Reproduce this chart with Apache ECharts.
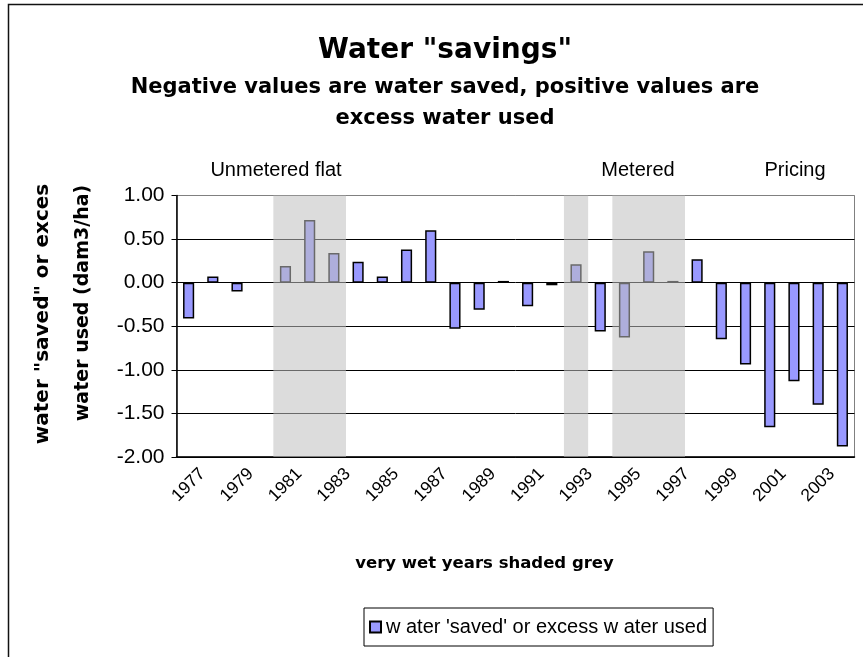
<!DOCTYPE html>
<html lang="en">
<head>
    <meta charset="utf-8">
    <title>Water savings</title>
    <script src="https://cdn.jsdelivr.net/npm/echarts@6/dist/echarts.min.js"></script>
    <style>
        html, body { margin: 0; padding: 0; background: #fff; }
        #main { width: 863px; height: 657px; }
    </style>
</head>
<body>
<div id="main"></div>
<script type="text/javascript">
    // years on the category axis
    var years = ['1977', '1978', '1979', '1980', '1981', '1982', '1983', '1984', '1985', '1986',
        '1987', '1988', '1989', '1990', '1991', '1992', '1993', '1994', '1995', '1996',
        '1997', '1998', '1999', '2000', '2001', '2002', '2003', '2004'];
    // water "saved" (negative) or excess used (positive), dam3/ha
    var savings = [-0.41, 0.07, -0.10, null, 0.19, 0.72, 0.34, 0.24, 0.07, 0.38,
        0.60, -0.53, -0.31, 0.02, -0.27, -0.03, 0.21, -0.56, -0.63, 0.36,
        0.02, 0.27, -0.65, -0.94, -1.66, -1.13, -1.40, -1.88];
    // very wet years (first, last) -> shaded grey
    var wetYears = [['1981', '1983'], ['1993', '1993'], ['1995', '1997']];
    var yTicks = [-2, -1.5, -1, -0.5, 0, 0.5, 1];

    var seriesName = "w ater 'saved' or excess w ater used";
    var arial = 'Liberation Sans, Arial, sans-serif';
    var verdana = 'DejaVu Sans, Verdana, sans-serif';

    var myChart = echarts.init(document.getElementById('main'));

    var option = {
        animation: false,
        backgroundColor: '#fff',
        title: {
            text: 'Water "savings"',
            subtext: 'Negative values are water saved, positive values are\nexcess water used',
            left: 440,
            top: 32,
            textAlign: 'center',
            itemGap: 7.5,
            textStyle: { fontFamily: verdana, fontWeight: 'bold', fontSize: 28, color: '#000' },
            subtextStyle: { fontFamily: verdana, fontWeight: 'bold', fontSize: 21, lineHeight: 31, color: '#000' }
        },
        legend: {
            data: [seriesName],
            left: 364,
            top: 608,
            padding: [9, 6, 9, 5],
            borderColor: '#000',
            borderWidth: 1,
            itemWidth: 11,
            itemHeight: 11,
            icon: 'rect',
            textStyle: { fontFamily: arial, fontSize: 20, color: '#000' }
        },
        grid: {
            left: 176.5,
            right: 8.5,
            top: 195.5,
            bottom: 200,
            containLabel: false,
            show: true,
            borderColor: '#808080',
            borderWidth: 1
        },
        xAxis: [{
            type: 'category',
            data: years,
            boundaryGap: true,
            name: 'very wet years shaded grey',
            nameLocation: 'middle',
            nameGap: 98,
            nameTextStyle: { fontFamily: verdana, fontWeight: 'bold', fontSize: 16.5, color: '#000', padding: [0, 62, 0, 0] },
            axisLine: { onZero: false, lineStyle: { color: '#000', width: 1.5 } },
            axisTick: { interval: 0, length: 5, lineStyle: { color: '#000' } },
            axisLabel: {
                interval: 1, rotate: 45, margin: 28, align: 'center', verticalAlign: 'middle',
                fontFamily: arial, fontSize: 17.5, color: '#000'
            },
            splitLine: { show: false }
        }, {
            type: 'value',
            min: 0,
            max: years.length,
            show: false
        }],
        yAxis: {
            type: 'value',
            min: yTicks[0],
            max: yTicks[yTicks.length - 1],
            interval: 0.5,
            axisLine: { show: true, lineStyle: { color: '#000', width: 1.5 } },
            axisTick: { show: true, length: 5, lineStyle: { color: '#000' } },
            axisLabel: {
                margin: 12, fontFamily: arial, fontSize: 21, color: '#000',
                formatter: function (v) { return v.toFixed(2); }
            },
            splitLine: {
                lineStyle: { color: ['#000', '#000', '#000', '#000', '#000', '#000', '#808080'], width: 1 }
            }
        },
        graphic: [
            { type: 'rect', shape: { x: 8.5, y: 4.5, width: 900, height: 700 },
              style: { fill: 'none', stroke: '#111', lineWidth: 1.5 }, silent: true },
            { type: 'text', x: 276, y: 170,
              style: { text: 'Unmetered flat', font: '20px ' + arial, fill: '#000', textAlign: 'center', textVerticalAlign: 'middle' } },
            { type: 'text', x: 638, y: 170,
              style: { text: 'Metered', font: '20px ' + arial, fill: '#000', textAlign: 'center', textVerticalAlign: 'middle' } },
            { type: 'text', x: 795, y: 170,
              style: { text: 'Pricing', font: '20px ' + arial, fill: '#000', textAlign: 'center', textVerticalAlign: 'middle' } },
            { type: 'text', x: 43, y: 314, rotation: Math.PI / 2,
              style: { text: 'water "saved" or exces', font: 'bold 20px ' + verdana, fill: '#000', textAlign: 'center', textVerticalAlign: 'middle' } },
            { type: 'text', x: 83, y: 303, rotation: Math.PI / 2,
              style: { text: 'water used (dam3/ha)', font: 'bold 19px ' + verdana, fill: '#000', textAlign: 'center', textVerticalAlign: 'middle' } }
        ],
        series: [{
            name: seriesName,
            type: 'bar',
            data: savings,
            barWidth: '46%',
            itemStyle: { color: '#9999FF', borderColor: '#000', borderWidth: 1.5 }
        }, {
            name: 'wet',
            type: 'line',
            xAxisIndex: 1,
            data: [],
            markArea: {
                silent: true,
                z: 10,
                itemStyle: { color: 'rgba(192,192,192,0.55)' },
                data: wetYears.map(function (r) {
                    return [{ xAxis: years.indexOf(r[0]) }, { xAxis: years.indexOf(r[1]) + 1 }];
                })
            }
        }]
    };
    myChart.setOption(option);
</script>
</body>
</html>
